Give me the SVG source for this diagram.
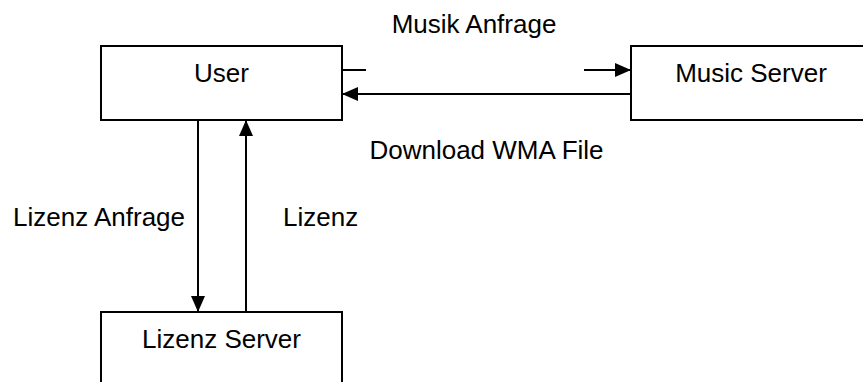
<svg xmlns="http://www.w3.org/2000/svg" width="863" height="382" viewBox="0 0 863 382">
  <style>
    .box { fill: #ffffff; stroke: #000000; stroke-width: 2; }
    .lbl { font-family: "Liberation Sans", Arial, sans-serif; font-size: 26px; fill: #000000; }
    .mid { text-anchor: middle; }
    .edge { fill: none; stroke: #000000; stroke-width: 2; }
  </style>
  <defs>
    <marker id="arrow" viewBox="0 0 16 14" refX="16" refY="7" markerWidth="16" markerHeight="14" markerUnits="userSpaceOnUse" orient="auto">
      <path d="M0,0 L16,7 L0,14 Z" fill="#000000"/>
    </marker>
  </defs>

  <g id="connectors">
    <!-- request to music server (line interrupted) -->
    <line class="edge" x1="342" y1="70" x2="366" y2="70"/>
    <line class="edge" x1="584" y1="70" x2="631" y2="70" marker-end="url(#arrow)"/>
    <!-- file download back to user -->
    <line class="edge" x1="631" y1="94" x2="342" y2="94" marker-end="url(#arrow)"/>
    <!-- licence request -->
    <line class="edge" x1="198" y1="118" x2="198" y2="312" marker-end="url(#arrow)"/>
    <!-- licence -->
    <line class="edge" x1="246" y1="321" x2="246" y2="120" marker-end="url(#arrow)"/>
  </g>

  <g id="user">
    <rect class="box" x="101" y="46" width="241" height="74"/>
    <text class="lbl mid" x="221.5" y="82">User</text>
  </g>

  <g id="music-server">
    <rect class="box" x="631" y="46" width="240" height="74"/>
    <text class="lbl mid" x="751" y="82">Music Server</text>
  </g>

  <g id="lizenz-server">
    <rect class="box" x="101" y="312" width="241" height="80"/>
    <text class="lbl mid" x="221.5" y="348">Lizenz Server</text>
  </g>

  <g id="labels">
    <text class="lbl mid" x="474" y="33">Musik Anfrage</text>
    <text class="lbl mid" x="486.5" y="159">Download WMA File</text>
    <text class="lbl" x="13" y="226">Lizenz Anfrage</text>
    <text class="lbl" x="283" y="226">Lizenz</text>
  </g>
</svg>
